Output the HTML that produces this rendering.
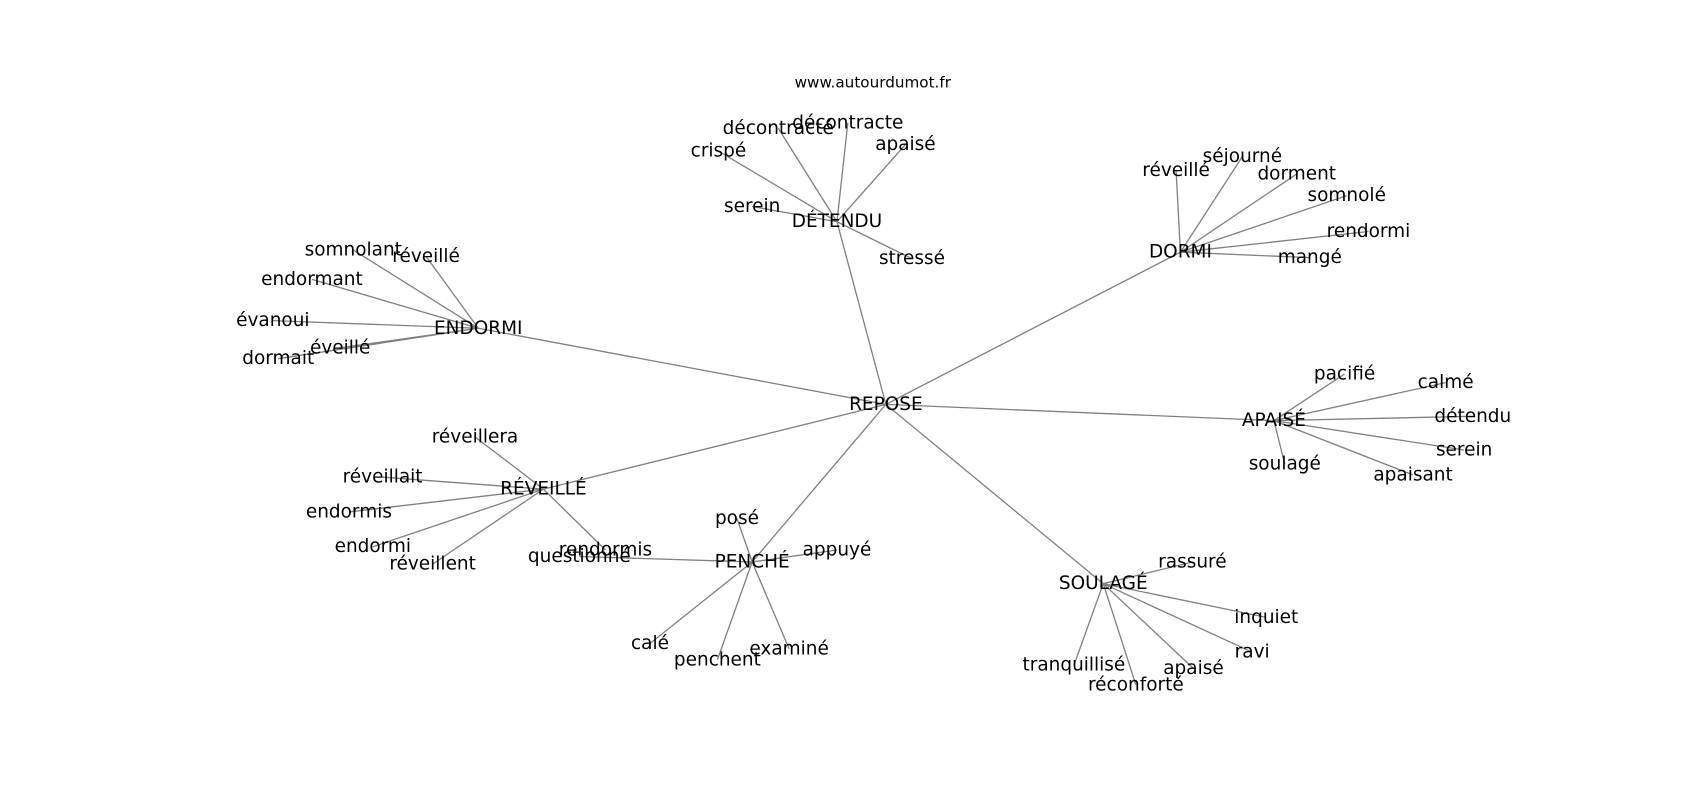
<!DOCTYPE html>
<html><head><meta charset="utf-8"><style>
html,body{margin:0;padding:0;background:#fff;}
svg{display:block;}
text{font-family:"DejaVu Sans","Liberation Sans",sans-serif;font-size:17px;fill:#000;text-anchor:middle;dominant-baseline:central;}
line{stroke:#808080;stroke-width:1.2;}
</style></head><body>
<svg width="1700" height="800" viewBox="0 0 1564 736" preserveAspectRatio="none" xmlns="http://www.w3.org/2000/svg">
<g>
<line x1="815" y1="372" x2="770" y2="204"/>
<line x1="815" y1="372" x2="1086" y2="232"/>
<line x1="815" y1="372" x2="440" y2="302"/>
<line x1="815" y1="372" x2="1172" y2="387"/>
<line x1="815" y1="372" x2="500" y2="450"/>
<line x1="815" y1="372" x2="692" y2="517"/>
<line x1="815" y1="372" x2="1015" y2="537"/>

<line x1="770" y1="204" x2="716" y2="118"/>
<line x1="770" y1="204" x2="780" y2="113"/>
<line x1="770" y1="204" x2="661" y2="139"/>
<line x1="770" y1="204" x2="833" y2="133"/>
<line x1="770" y1="204" x2="692" y2="190"/>
<line x1="770" y1="204" x2="839" y2="238"/>

<line x1="1086" y1="232" x2="1082" y2="157"/>
<line x1="1086" y1="232" x2="1143" y2="144"/>
<line x1="1086" y1="232" x2="1193" y2="160"/>
<line x1="1086" y1="232" x2="1239" y2="180"/>
<line x1="1086" y1="232" x2="1259" y2="213"/>
<line x1="1086" y1="232" x2="1205" y2="237"/>

<line x1="440" y1="302" x2="325" y2="230"/>
<line x1="440" y1="302" x2="392" y2="236"/>
<line x1="440" y1="302" x2="287" y2="257"/>
<line x1="440" y1="302" x2="251" y2="295"/>
<line x1="440" y1="302" x2="313" y2="320"/>
<line x1="440" y1="302" x2="256" y2="330"/>

<line x1="1172" y1="387" x2="1237" y2="344"/>
<line x1="1172" y1="387" x2="1330" y2="352"/>
<line x1="1172" y1="387" x2="1355" y2="383"/>
<line x1="1172" y1="387" x2="1347" y2="414"/>
<line x1="1172" y1="387" x2="1182" y2="427"/>
<line x1="1172" y1="387" x2="1300" y2="437"/>

<line x1="500" y1="450" x2="437" y2="402"/>
<line x1="500" y1="450" x2="352" y2="439"/>
<line x1="500" y1="450" x2="321" y2="471"/>
<line x1="500" y1="450" x2="343" y2="503"/>
<line x1="500" y1="450" x2="398" y2="519"/>
<line x1="500" y1="450" x2="557" y2="506"/>

<line x1="692" y1="517" x2="678" y2="477"/>
<line x1="692" y1="517" x2="770" y2="506"/>
<line x1="692" y1="517" x2="533" y2="512"/>
<line x1="692" y1="517" x2="598" y2="592"/>
<line x1="692" y1="517" x2="660" y2="607"/>
<line x1="692" y1="517" x2="726" y2="597"/>

<line x1="1015" y1="537" x2="1097" y2="517"/>
<line x1="1015" y1="537" x2="1165" y2="568"/>
<line x1="1015" y1="537" x2="1152" y2="600"/>
<line x1="1015" y1="537" x2="1098" y2="615"/>
<line x1="1015" y1="537" x2="988" y2="612"/>
<line x1="1015" y1="537" x2="1045" y2="630"/>
</g>
<text x="803" y="76" style="font-size:14px">www.autourdumot.fr</text>
<text x="815" y="372">REPOSE</text>
<text x="770" y="204">DÉTENDU</text>
<text x="1086" y="232">DORMI</text>
<text x="440" y="302">ENDORMI</text>
<text x="1172" y="387">APAISÉ</text>
<text x="500" y="450">RÉVEILLÉ</text>
<text x="692" y="517">PENCHÉ</text>
<text x="1015" y="537">SOULAGÉ</text>

<text x="716" y="118">décontracté</text>
<text x="780" y="113">décontracte</text>
<text x="661" y="139">crispé</text>
<text x="833" y="133">apaisé</text>
<text x="692" y="190">serein</text>
<text x="839" y="238">stressé</text>

<text x="1082" y="157">réveillé</text>
<text x="1143" y="144">séjourné</text>
<text x="1193" y="160">dorment</text>
<text x="1239" y="180">somnolé</text>
<text x="1259" y="213">rendormi</text>
<text x="1205" y="237">mangé</text>

<text x="325" y="230">somnolant</text>
<text x="392" y="236">réveillé</text>
<text x="287" y="257">endormant</text>
<text x="251" y="295">évanoui</text>
<text x="313" y="320">éveillé</text>
<text x="256" y="330">dormait</text>

<text x="1237" y="344">pacifié</text>
<text x="1330" y="352">calmé</text>
<text x="1355" y="383">détendu</text>
<text x="1347" y="414">serein</text>
<text x="1182" y="427">soulagé</text>
<text x="1300" y="437">apaisant</text>

<text x="437" y="402">réveillera</text>
<text x="352" y="439">réveillait</text>
<text x="321" y="471">endormis</text>
<text x="343" y="503">endormi</text>
<text x="398" y="519">réveillent</text>
<text x="557" y="506">rendormis</text>

<text x="678" y="477">posé</text>
<text x="770" y="506">appuyé</text>
<text x="533" y="512">questionné</text>
<text x="598" y="592">calé</text>
<text x="660" y="607">penchent</text>
<text x="726" y="597">examiné</text>

<text x="1097" y="517">rassuré</text>
<text x="1165" y="568">inquiet</text>
<text x="1152" y="600">ravi</text>
<text x="1098" y="615">apaisé</text>
<text x="988" y="612">tranquillisé</text>
<text x="1045" y="630">réconforté</text>
</svg>
</body></html>
